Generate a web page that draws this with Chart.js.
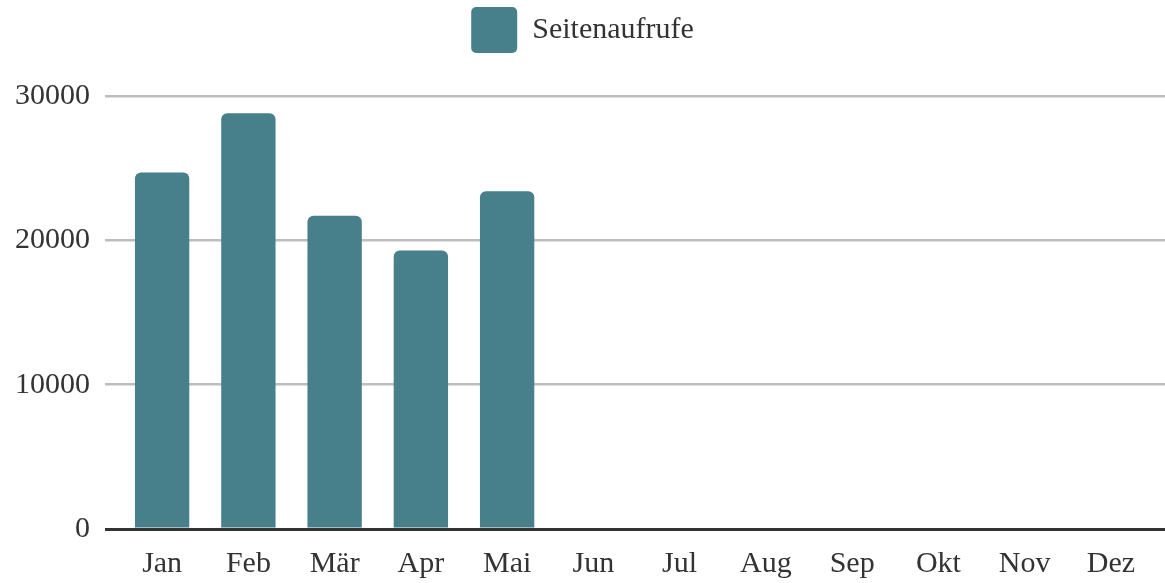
<!DOCTYPE html>
<html>
<head>
<meta charset="utf-8">
<script src="https://cdn.jsdelivr.net/npm/chart.js@4.4.0/dist/chart.umd.min.js"></script>
<style>
  html, body { margin: 0; padding: 0; background: #fff; }
  #wrap { width: 1165px; height: 583px; }
</style>
</head>
<body>
<div id="wrap"><canvas id="chartCanvas" width="1165" height="583"></canvas></div>
<script>
// Monatliche Seitenaufrufe
const months = ['Jan', 'Feb', 'Mär', 'Apr', 'Mai', 'Jun', 'Jul', 'Aug', 'Sep', 'Okt', 'Nov', 'Dez'];
const pageViews = [24700, 28800, 21700, 19300, 23400, null, null, null, null, null, null, null];
const yTicks = [0, 10000, 20000, 30000];

const barColor = '#477f8b';
const gridColor = ctx => (ctx.tick && ctx.tick.value === 0) ? '#333333' : '#bdbdbd';
const gridWidth = ctx => (ctx.tick && ctx.tick.value === 0) ? 3 : 2.5;

// Legende etwas höher machen, damit die Zeichenfläche bei y=95 beginnt
const legendSpace = {
    id: 'legendSpace',
    beforeInit(chart) {
        const origFit = chart.legend.fit;
        chart.legend.fit = function () {
            origFit.bind(chart.legend)();
            this.height += 33;
        };
    }
};

Chart.defaults.font.family = '"Liberation Serif", "Times New Roman", serif';
Chart.defaults.color = '#333';

const ctx = document.getElementById('chartCanvas').getContext('2d');
new Chart(ctx, {
    type: 'bar',
    data: {
        labels: months,
        datasets: [{
            label: 'Seitenaufrufe',
            data: pageViews,
            backgroundColor: barColor,
            borderRadius: 6,
            borderSkipped: 'start',
            categoryPercentage: 1,
            barPercentage: 0.63
        }]
    },
    plugins: [legendSpace],
    options: {
        responsive: false,
        animation: false,
        layout: {
            padding: { left: 0, right: 0, top: 0, bottom: -8 }
        },
        plugins: {
            tooltip: { enabled: false },
            legend: {
                position: 'top',
                labels: {
                    boxWidth: 46,
                    boxHeight: 46,
                    padding: 7,
                    useBorderRadius: true,
                    borderRadius: 5,
                    color: '#333',
                    font: { size: 30 }
                }
            }
        },
        scales: {
            x: {
                grid: { display: false },
                border: { display: false },
                ticks: {
                    padding: 9,
                    color: '#333',
                    font: { size: 30 },
                    maxRotation: 0,
                    autoSkip: false
                }
            },
            y: {
                min: 0,
                max: 30000,
                afterBuildTicks: axis => { axis.ticks = yTicks.map(v => ({ value: v })); },
                grid: { color: gridColor, lineWidth: gridWidth, tickLength: 14 },
                border: { display: false },
                ticks: {
                    padding: 15,
                    color: '#333',
                    font: { size: 30 },
                    callback: value => String(value)
                }
            },
            yRight: {
                position: 'right',
                min: 0,
                max: 30000,
                afterBuildTicks: axis => { axis.ticks = yTicks.map(v => ({ value: v })); },
                grid: { drawOnChartArea: false, color: gridColor, lineWidth: gridWidth, tickLength: 11 },
                border: { display: false },
                ticks: { display: false }
            }
        }
    }
});
</script>
</body>
</html>
